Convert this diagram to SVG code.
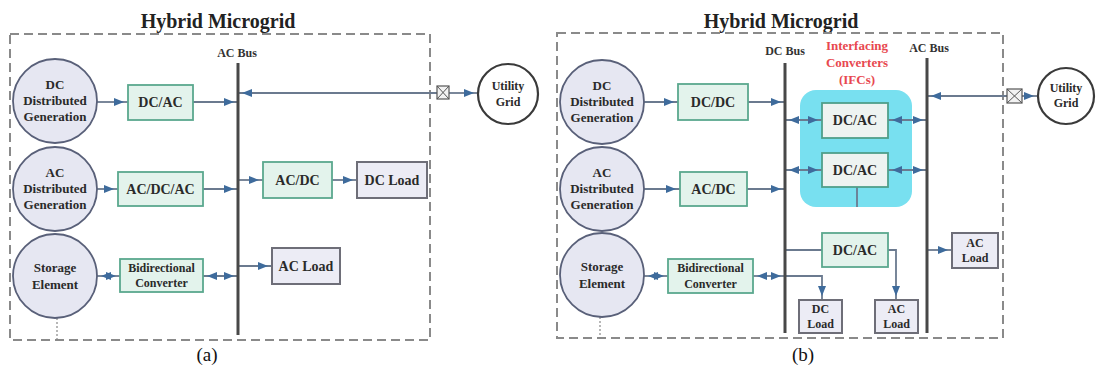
<svg xmlns="http://www.w3.org/2000/svg" width="1096" height="367" viewBox="0 0 1096 367">
  <defs>
    <style>
      text { font-family: "Liberation Serif", "DejaVu Serif", serif; text-anchor: middle; }
      .frame { fill: none; stroke: #8a8a8a; stroke-width: 2; stroke-dasharray: 9 5; }
      .title { font-weight: 700; font-size: 20px; fill: #222; }
      .cap { font-size: 19px; fill: #111; }
      .bus { stroke: #484848; stroke-width: 3; }
      .buslbl { font-weight: 700; font-size: 12px; fill: #333; }
      .src { fill: #e6e7f2; stroke: #596079; stroke-width: 1.8; }
      .grid { fill: #ffffff; stroke: #3a3a3a; stroke-width: 2.2; }
      .conv { fill: #e3f3ec; stroke: #5aa88e; stroke-width: 1.8; }
      .ifc { fill: #eef3f1; stroke: #4f9f8a; stroke-width: 1.8; }
      .load { fill: #ececf5; stroke: #6e6e78; stroke-width: 2; }
      .brk { fill: #f2f2f2; stroke: #555; stroke-width: 1.2; }
      .t { font-weight: 700; font-size: 13px; fill: #2a2a2a; }
      .tb { font-weight: 700; font-size: 14px; fill: #2a2a2a; }
      .ts { font-weight: 700; font-size: 12px; fill: #2a2a2a; }
      .red { font-weight: 700; font-size: 13px; fill: #e8484f; }
      .w { fill: none; stroke: #6b7a8f; stroke-width: 1.8; }
      .one { marker-end: url(#ah); }
      .two { marker-start: url(#ah); marker-end: url(#ah); }
      .back { marker-start: url(#ah); }
      .dot { stroke: #888; stroke-width: 1.2; stroke-dasharray: 2 2; }
    </style>
    <marker id="ah" markerUnits="userSpaceOnUse" markerWidth="10" markerHeight="8" refX="14" refY="4" orient="auto-start-reverse" overflow="visible">
      <path d="M0,0 L10,4 L0,8 z" fill="#3e6b9c"/>
    </marker>
  </defs>

  <!-- ===== (a) AC-coupled hybrid microgrid ===== -->
  <g id="panel-a">
    <text class="title" x="218" y="28">Hybrid Microgrid</text>
    <rect class="frame" x="10" y="34" width="420" height="306"/>
    <text class="cap" x="207" y="361">(a)</text>
    <line class="dot" x1="57" y1="318" x2="57" y2="340"/>
  </g>

  <g id="a-connectors">
    <path class="w one" d="M97,102 H128"/>
    <path class="w one" d="M193,102 H238"/>
    <path class="w one" d="M97,189 H118"/>
    <path class="w one" d="M203,189 H238"/>
    <path class="w two" d="M97,276 H120"/>
    <path class="w two" d="M203,276 H238"/>
    <path class="w one" d="M238,180 H263"/>
    <path class="w one" d="M332,180 H357"/>
    <path class="w one" d="M238,266 H272"/>
    <path class="w back" d="M238,93 H437"/>
    <path class="w one" d="M449,93 H478"/>
  </g>

  <g id="a-ac-bus">
    <line class="bus" x1="238" y1="63" x2="238" y2="335"/>
    <text class="buslbl" x="237" y="57">AC Bus</text>
  </g>

  <g id="a-dc-dg">
    <circle class="src" cx="55" cy="101" r="42"/>
    <text class="t" x="55" y="89">DC</text>
    <text class="t" x="55" y="105">Distributed</text>
    <text class="t" x="55" y="121">Generation</text>
  </g>
  <g id="a-ac-dg">
    <circle class="src" cx="55" cy="189" r="42"/>
    <text class="t" x="55" y="177">AC</text>
    <text class="t" x="55" y="193">Distributed</text>
    <text class="t" x="55" y="209">Generation</text>
  </g>
  <g id="a-storage">
    <circle class="src" cx="55" cy="276" r="42"/>
    <text class="t" x="55" y="272">Storage</text>
    <text class="t" x="55" y="289">Element</text>
  </g>

  <g id="a-dcac">
    <rect class="conv" x="128" y="85" width="65" height="35"/>
    <text class="tb" x="160.5" y="107">DC/AC</text>
  </g>
  <g id="a-acdcac">
    <rect class="conv" x="118" y="172" width="85" height="34"/>
    <text class="tb" x="160.5" y="194">AC/DC/AC</text>
  </g>
  <g id="a-bidir">
    <rect class="conv" x="120" y="259" width="83" height="33"/>
    <text class="ts" x="161.5" y="272">Bidirectional</text>
    <text class="ts" x="161.5" y="287">Converter</text>
  </g>
  <g id="a-acdc">
    <rect class="conv" x="263" y="162" width="69" height="36"/>
    <text class="tb" x="297.5" y="185">AC/DC</text>
  </g>
  <g id="a-dc-load">
    <rect class="load" x="357" y="162" width="70" height="36"/>
    <text class="tb" x="392" y="185">DC Load</text>
  </g>
  <g id="a-ac-load">
    <rect class="load" x="272" y="248" width="68" height="36"/>
    <text class="tb" x="306" y="271">AC Load</text>
  </g>
  <g id="a-breaker">
    <rect class="brk" x="437" y="86" width="12" height="13"/>
    <path d="M437,86 L449,99 M449,86 L437,99" stroke="#555" stroke-width="1"/>
  </g>
  <g id="a-utility">
    <circle class="grid" cx="508" cy="94" r="30"/>
    <text class="ts" x="508" y="90">Utility</text>
    <text class="ts" x="508" y="106">Grid</text>
  </g>

  <!-- ===== (b) DC/AC hybrid microgrid with IFCs ===== -->
  <g id="panel-b">
    <text class="title" x="781" y="28">Hybrid Microgrid</text>
    <rect class="frame" x="557" y="33" width="446" height="305"/>
    <text class="cap" x="803" y="361">(b)</text>
    <line class="dot" x1="600" y1="317" x2="600" y2="338"/>
  </g>

  <g id="b-ifc-group">
    <rect x="800" y="90" width="112" height="117" rx="16" fill="#78e0f0"/>
    <text class="red" x="857" y="50">Interfacing</text>
    <text class="red" x="857" y="67">Converters</text>
    <text class="red" x="857" y="84">(IFCs)</text>
  </g>

  <g id="b-connectors">
    <path class="w one" d="M644,102 H678"/>
    <path class="w one" d="M748,102 H785"/>
    <path class="w one" d="M644,189 H680"/>
    <path class="w one" d="M747,189 H785"/>
    <path class="w two" d="M644,276 H668"/>
    <path class="w two" d="M753,276 H785"/>
    <path class="w one" d="M785,276 H822 V300"/>
    <path class="w two" d="M785,120 H822"/>
    <path class="w two" d="M888,120 H927"/>
    <path class="w two" d="M785,170 H822"/>
    <path class="w two" d="M888,170 H927"/>
    <path class="w" d="M857,187 V207"/>
    <path class="w" d="M785,250 H822"/>
    <path class="w one" d="M888,250 H896 V300"/>
    <path class="w one" d="M927,250 H952"/>
    <path class="w back" d="M927,96 H1007"/>
    <path class="w one" d="M1022,96 H1038"/>
  </g>

  <g id="b-dc-bus">
    <line class="bus" x1="785" y1="63" x2="785" y2="333"/>
    <text class="buslbl" x="785" y="55">DC Bus</text>
  </g>
  <g id="b-ac-bus">
    <line class="bus" x1="927" y1="58" x2="927" y2="333"/>
    <text class="buslbl" x="929" y="52">AC Bus</text>
  </g>

  <g id="b-dc-dg">
    <circle class="src" cx="602" cy="102" r="42"/>
    <text class="t" x="602" y="90">DC</text>
    <text class="t" x="602" y="106">Distributed</text>
    <text class="t" x="602" y="122">Generation</text>
  </g>
  <g id="b-ac-dg">
    <circle class="src" cx="602" cy="189" r="42"/>
    <text class="t" x="602" y="177">AC</text>
    <text class="t" x="602" y="193">Distributed</text>
    <text class="t" x="602" y="209">Generation</text>
  </g>
  <g id="b-storage">
    <circle class="src" cx="602" cy="275" r="42"/>
    <text class="t" x="602" y="271">Storage</text>
    <text class="t" x="602" y="288">Element</text>
  </g>

  <g id="b-dcdc">
    <rect class="conv" x="678" y="84" width="70" height="36"/>
    <text class="tb" x="713" y="107">DC/DC</text>
  </g>
  <g id="b-acdc">
    <rect class="conv" x="680" y="172" width="67" height="34"/>
    <text class="tb" x="713.5" y="194">AC/DC</text>
  </g>
  <g id="b-bidir">
    <rect class="conv" x="668" y="259" width="85" height="34"/>
    <text class="ts" x="710.5" y="272">Bidirectional</text>
    <text class="ts" x="710.5" y="288">Converter</text>
  </g>
  <g id="b-ifc-1">
    <rect class="ifc" x="822" y="103" width="66" height="35"/>
    <text class="tb" x="855" y="125">DC/AC</text>
  </g>
  <g id="b-ifc-2">
    <rect class="ifc" x="822" y="153" width="66" height="34"/>
    <text class="tb" x="855" y="175">DC/AC</text>
  </g>
  <g id="b-dcac-load">
    <rect class="conv" x="822" y="233" width="66" height="34"/>
    <text class="tb" x="855" y="255">DC/AC</text>
  </g>
  <g id="b-dc-load">
    <rect class="load" x="799" y="300" width="43" height="33"/>
    <text class="ts" x="820.5" y="313">DC</text>
    <text class="ts" x="820.5" y="328">Load</text>
  </g>
  <g id="b-ac-load-1">
    <rect class="load" x="875" y="300" width="43" height="33"/>
    <text class="ts" x="896.5" y="313">AC</text>
    <text class="ts" x="896.5" y="328">Load</text>
  </g>
  <g id="b-ac-load-2">
    <rect class="load" x="952" y="233" width="46" height="35"/>
    <text class="ts" x="975" y="247">AC</text>
    <text class="ts" x="975" y="262">Load</text>
  </g>
  <g id="b-breaker">
    <rect class="brk" x="1007" y="89" width="15" height="14"/>
    <path d="M1007,89 L1022,103 M1022,89 L1007,103" stroke="#555" stroke-width="1"/>
  </g>
  <g id="b-utility">
    <circle class="grid" cx="1066" cy="96" r="28"/>
    <text class="ts" x="1066" y="92">Utility</text>
    <text class="ts" x="1066" y="107">Grid</text>
  </g>
</svg>
